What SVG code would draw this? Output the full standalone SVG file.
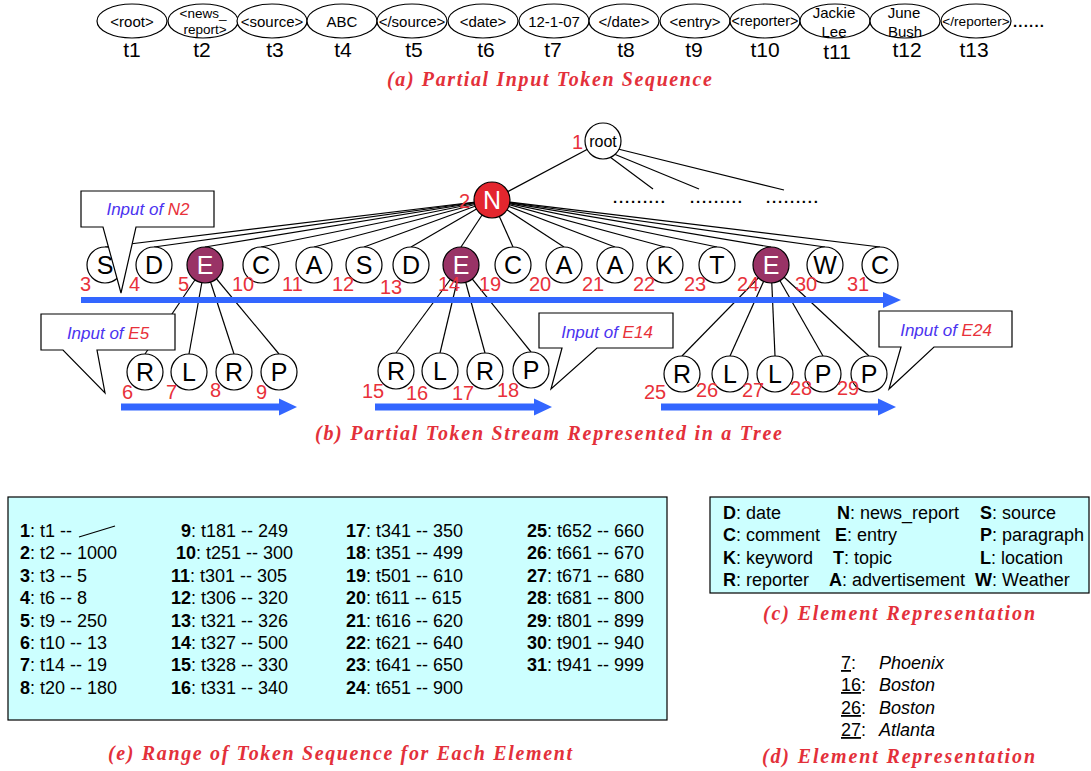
<svg xmlns="http://www.w3.org/2000/svg" width="1091" height="771" viewBox="0 0 1091 771">
<style>
text{font-family:"Liberation Sans",Arial,sans-serif;fill:#000}
.tok{fill:#fff;stroke:#000;stroke-width:1.2}
.tt{font-size:15px;text-anchor:middle}
.tl{font-size:21px;text-anchor:middle}
.cap{font-family:"Liberation Serif",serif;font-style:italic;font-weight:bold;font-size:20px;fill:#E3303A}
.nd{fill:#fff;stroke:#000;stroke-width:1.2}
.ndE{fill:#993366;stroke:#000;stroke-width:1.2}
.ndN{fill:#E3262E;stroke:#000;stroke-width:1.2}
.lt{font-size:25px;text-anchor:middle}
.lw{font-size:25px;text-anchor:middle;fill:#fff}
.num{font-size:20px;fill:#E8313A}
.edge line{stroke:#000;stroke-width:1.2}
.blue{fill:#3366FF}
.call{fill:#fff;stroke:#000;stroke-width:1.2}
.ci{font-size:17px;font-style:italic;text-anchor:middle;fill:#4B33F0}
.red{fill:#E8313A}
.tb{font-size:18px}
.box{fill:#CCFFFF;stroke:#000;stroke-width:1.2}
.dots{font-size:15px;font-weight:bold}
</style>

<!-- (a) token sequence -->
<g id="tokens">
<g id="tok1"><ellipse class="tok" cx="132" cy="21" rx="35" ry="17"/><text class="tt" x="132" y="27">&lt;root&gt;</text><text class="tl" x="132" y="57">t1</text></g>
<g id="tok2"><ellipse class="tok" cx="203" cy="21" rx="35" ry="17"/><text class="tt" x="203" y="18" style="font-size:13.5px">&lt;news_</text><text class="tt" x="205" y="34" style="font-size:13.5px">report&gt;</text><text class="tl" x="202" y="57">t2</text></g>
<g id="tok3"><ellipse class="tok" cx="272" cy="21" rx="35" ry="17"/><text class="tt" x="272" y="27">&lt;source&gt;</text><text class="tl" x="275" y="57">t3</text></g>
<g id="tok4"><ellipse class="tok" cx="342" cy="21" rx="35" ry="17"/><text class="tt" x="342" y="27">ABC</text><text class="tl" x="343" y="57">t4</text></g>
<g id="tok5"><ellipse class="tok" cx="412" cy="21" rx="35" ry="17"/><text class="tt" x="412" y="27">&lt;/source&gt;</text><text class="tl" x="414" y="57">t5</text></g>
<g id="tok6"><ellipse class="tok" cx="483" cy="21" rx="35" ry="17"/><text class="tt" x="483" y="27">&lt;date&gt;</text><text class="tl" x="486" y="57">t6</text></g>
<g id="tok7"><ellipse class="tok" cx="554" cy="21" rx="35" ry="17"/><text class="tt" x="554" y="27">12-1-07</text><text class="tl" x="553" y="57">t7</text></g>
<g id="tok8"><ellipse class="tok" cx="624" cy="21" rx="35" ry="17"/><text class="tt" x="624" y="27">&lt;/date&gt;</text><text class="tl" x="626" y="57">t8</text></g>
<g id="tok9"><ellipse class="tok" cx="695" cy="21" rx="35" ry="17"/><text class="tt" x="695" y="27">&lt;entry&gt;</text><text class="tl" x="694" y="57">t9</text></g>
<g id="tok10"><ellipse class="tok" cx="765" cy="21" rx="35" ry="17"/><text class="tt" x="765" y="26" style="font-size:14.3px">&lt;reporter&gt;</text><text class="tl" x="765" y="57">t10</text></g>
<g id="tok11"><ellipse class="tok" cx="835" cy="21" rx="35" ry="17"/><text class="tt" x="834" y="18">Jackie</text><text class="tt" x="834" y="37">Lee</text><text class="tl" x="837" y="59">t11</text></g>
<g id="tok12"><ellipse class="tok" cx="905" cy="21" rx="35" ry="17"/><text class="tt" x="904" y="18">June</text><text class="tt" x="905" y="37">Bush</text><text class="tl" x="907" y="57">t12</text></g>
<g id="tok13"><ellipse class="tok" cx="976" cy="21" rx="35" ry="17"/><text class="tt" x="976" y="26" style="font-size:13.6px">&lt;/reporter&gt;</text><text class="tl" x="974" y="57">t13</text></g>
<text class="dots" x="1013" y="27" textLength="31">......</text>
</g>
<text class="cap" x="387" y="86" textLength="325" lengthAdjust="spacing">(a)  Partial Input Token Sequence</text>

<!-- connectors -->
<g id="connectors" class="edge">
<line x1="603" y1="141" x2="492" y2="200"/>
<line x1="610" y1="157" x2="653" y2="189"/>
<line x1="614" y1="154" x2="699" y2="189"/>
<line x1="618" y1="149" x2="784" y2="190"/>
<line x1="492" y1="200" x2="105" y2="247"/>
<line x1="492" y1="200" x2="154" y2="247"/>
<line x1="492" y1="200" x2="205" y2="247"/>
<line x1="492" y1="200" x2="261" y2="247"/>
<line x1="492" y1="200" x2="314" y2="247"/>
<line x1="492" y1="200" x2="364" y2="247"/>
<line x1="492" y1="200" x2="411" y2="247"/>
<line x1="492" y1="200" x2="461" y2="247"/>
<line x1="492" y1="200" x2="513" y2="247"/>
<line x1="492" y1="200" x2="564" y2="247"/>
<line x1="492" y1="200" x2="615" y2="247"/>
<line x1="492" y1="200" x2="665" y2="247"/>
<line x1="492" y1="200" x2="717" y2="247"/>
<line x1="492" y1="200" x2="771" y2="247"/>
<line x1="492" y1="200" x2="825" y2="247"/>
<line x1="492" y1="200" x2="880" y2="247"/>
<line x1="205" y1="265" x2="145" y2="354"/>
<line x1="205" y1="265" x2="189" y2="354"/>
<line x1="205" y1="265" x2="234" y2="354"/>
<line x1="205" y1="265" x2="279" y2="354"/>
<line x1="461" y1="265" x2="396" y2="353"/>
<line x1="461" y1="265" x2="440" y2="353"/>
<line x1="461" y1="265" x2="485" y2="353"/>
<line x1="461" y1="265" x2="531" y2="352"/>
<line x1="771" y1="265" x2="682" y2="356"/>
<line x1="771" y1="265" x2="730" y2="356"/>
<line x1="771" y1="265" x2="775" y2="356"/>
<line x1="771" y1="265" x2="823" y2="356"/>
<line x1="771" y1="265" x2="869" y2="356"/>
</g>

<text class="dots" x="613" y="203" textLength="52">.........</text>
<text class="dots" x="690" y="203" textLength="52">.........</text>
<text class="dots" x="766" y="203" textLength="52">.........</text>

<!-- nodes -->
<g id="n1"><circle class="nd" cx="603" cy="141" r="18"/><text x="603" y="147" style="font-size:16px;text-anchor:middle">root</text><text class="num" x="572" y="149">1</text></g>
<g id="n2"><circle class="ndN" cx="492" cy="200" r="18"/><text class="lw" x="492" y="209">N</text><text class="num" x="459" y="208">2</text></g>
<g id="n3"><circle class="nd" cx="105" cy="265" r="18"/><text class="lt" x="105" y="274">S</text></g>
<g id="n4"><circle class="nd" cx="154" cy="265" r="18"/><text class="lt" x="154" y="274">D</text></g>
<g id="n5"><circle class="ndE" cx="205" cy="265" r="18"/><text class="lw" x="205" y="274">E</text></g>
<g id="n10"><circle class="nd" cx="261" cy="265" r="18"/><text class="lt" x="261" y="274">C</text></g>
<g id="n11"><circle class="nd" cx="314" cy="265" r="18"/><text class="lt" x="314" y="274">A</text></g>
<g id="n12"><circle class="nd" cx="364" cy="265" r="18"/><text class="lt" x="364" y="274">S</text></g>
<g id="n13"><circle class="nd" cx="411" cy="265" r="18"/><text class="lt" x="411" y="274">D</text></g>
<g id="n14"><circle class="ndE" cx="461" cy="265" r="18"/><text class="lw" x="461" y="274">E</text></g>
<g id="n19"><circle class="nd" cx="513" cy="265" r="18"/><text class="lt" x="513" y="274">C</text></g>
<g id="n20"><circle class="nd" cx="564" cy="265" r="18"/><text class="lt" x="564" y="274">A</text></g>
<g id="n21"><circle class="nd" cx="615" cy="265" r="18"/><text class="lt" x="615" y="274">A</text></g>
<g id="n22"><circle class="nd" cx="665" cy="265" r="18"/><text class="lt" x="665" y="274">K</text></g>
<g id="n23"><circle class="nd" cx="717" cy="265" r="18"/><text class="lt" x="717" y="274">T</text></g>
<g id="n24"><circle class="ndE" cx="771" cy="265" r="18"/><text class="lw" x="771" y="274">E</text></g>
<g id="n30"><circle class="nd" cx="825" cy="265" r="18"/><text class="lt" x="825" y="274">W</text></g>
<g id="n31"><circle class="nd" cx="880" cy="265" r="18"/><text class="lt" x="880" y="274">C</text></g>

<g id="n6"><circle class="nd" cx="145" cy="372" r="18"/><text class="lt" x="145" y="381">R</text></g>
<g id="n7"><circle class="nd" cx="189" cy="372" r="18"/><text class="lt" x="189" y="381">L</text></g>
<g id="n8"><circle class="nd" cx="234" cy="372" r="18"/><text class="lt" x="234" y="381">R</text></g>
<g id="n9"><circle class="nd" cx="279" cy="372" r="18"/><text class="lt" x="279" y="381">P</text></g>
<g id="n15"><circle class="nd" cx="396" cy="371" r="18"/><text class="lt" x="396" y="380">R</text></g>
<g id="n16"><circle class="nd" cx="440" cy="371" r="18"/><text class="lt" x="440" y="380">L</text></g>
<g id="n17"><circle class="nd" cx="485" cy="371" r="18"/><text class="lt" x="485" y="380">R</text></g>
<g id="n18"><circle class="nd" cx="531" cy="370" r="18"/><text class="lt" x="531" y="379">P</text></g>
<g id="n25"><circle class="nd" cx="682" cy="374" r="18"/><text class="lt" x="682" y="383">R</text></g>
<g id="n26"><circle class="nd" cx="730" cy="374" r="18"/><text class="lt" x="730" y="383">L</text></g>
<g id="n27"><circle class="nd" cx="775" cy="374" r="18"/><text class="lt" x="775" y="383">L</text></g>
<g id="n28"><circle class="nd" cx="823" cy="374" r="18"/><text class="lt" x="823" y="383">P</text></g>
<g id="n29"><circle class="nd" cx="869" cy="374" r="18"/><text class="lt" x="869" y="383">P</text></g>

<!-- blue stream arrows -->
<g id="streams">
<path class="blue" d="M81,297 H883 V292 L901,300 L883,308 V303 H81 Z"/>
<path class="blue" d="M121,403.5 H279 V398.5 L297,407 L279,415.5 V410.5 H121 Z"/>
<path class="blue" d="M375,403.5 H534 V398.5 L552,407 L534,415.5 V410.5 H375 Z"/>
<path class="blue" d="M661,403.5 H878 V398.5 L896,407 L878,415.5 V410.5 H661 Z"/>
</g>

<!-- order numbers -->
<g id="numbers">
<text class="num" x="80" y="291">3</text>
<text class="num" x="129" y="291">4</text>
<text class="num" x="178" y="291">5</text>
<text class="num" x="232" y="291">10</text>
<text class="num" x="282" y="291">11</text>
<text class="num" x="332" y="291">12</text>
<text class="num" x="380" y="294">13</text>
<text class="num" x="438" y="291">14</text>
<text class="num" x="479" y="291">19</text>
<text class="num" x="529" y="291">20</text>
<text class="num" x="582" y="291">21</text>
<text class="num" x="633" y="291">22</text>
<text class="num" x="684" y="291">23</text>
<text class="num" x="737" y="291">24</text>
<text class="num" x="795" y="291">30</text>
<text class="num" x="847" y="291">31</text>
<text class="num" x="122" y="399">6</text>
<text class="num" x="166" y="399">7</text>
<text class="num" x="210" y="397">8</text>
<text class="num" x="256" y="399">9</text>
<text class="num" x="362" y="398">15</text>
<text class="num" x="406" y="400">16</text>
<text class="num" x="452" y="400">17</text>
<text class="num" x="497" y="397">18</text>
<text class="num" x="644" y="399">25</text>
<text class="num" x="696" y="397">26</text>
<text class="num" x="742" y="397">27</text>
<text class="num" x="790" y="395">28</text>
<text class="num" x="837" y="395">29</text>
</g>

<!-- callouts -->
<g id="callN2"><polygon class="call" points="81,191 214,191 214,227 136,227 121,293 103,227 81,227"/><text class="ci" x="148" y="215">Input of <tspan class="red">N2</tspan></text></g>
<g id="callE5"><polygon class="call" points="41,314 175,314 175,350 97,350 105,393 63,350 41,350"/><text class="ci" x="108" y="339">Input of <tspan class="red">E5</tspan></text></g>
<g id="callE14"><polygon class="call" points="539,313 673,313 673,348 597,348 551,389 562,348 539,348"/><text class="ci" x="607" y="338">Input of <tspan class="red">E14</tspan></text></g>
<g id="callE24"><polygon class="call" points="879,311 1012,311 1012,347 934,347 889,389 901,347 879,347"/><text class="ci" x="946" y="336">Input of <tspan class="red">E24</tspan></text></g>

<text class="cap" x="315" y="440" textLength="467" lengthAdjust="spacing">(b)  Partial Token Stream Represented in a Tree</text>

<!-- (e) range table -->
<g id="rangeTable">
<rect class="box" x="8" y="497" width="659" height="223"/>
<text class="tb" x="20" y="537"><tspan font-weight="bold">1</tspan>: t1 --</text>
<line x1="79" y1="537" x2="115" y2="526" stroke="#000" stroke-width="1.2"/>
<text class="tb" x="20" y="559.4"><tspan font-weight="bold">2</tspan>: t2 -- 1000</text>
<text class="tb" x="20" y="581.8"><tspan font-weight="bold">3</tspan>: t3 -- 5</text>
<text class="tb" x="20" y="604.2"><tspan font-weight="bold">4</tspan>: t6 -- 8</text>
<text class="tb" x="20" y="626.6"><tspan font-weight="bold">5</tspan>: t9 -- 250</text>
<text class="tb" x="20" y="649"><tspan font-weight="bold">6</tspan>: t10 -- 13</text>
<text class="tb" x="20" y="671.4"><tspan font-weight="bold">7</tspan>: t14 -- 19</text>
<text class="tb" x="20" y="693.8"><tspan font-weight="bold">8</tspan>: t20 -- 180</text>

<text class="tb" x="181" y="537"><tspan font-weight="bold">9</tspan>: t181 -- 249</text>
<text class="tb" x="176" y="559.4"><tspan font-weight="bold">10</tspan>: t251 -- 300</text>
<text class="tb" x="171" y="581.8"><tspan font-weight="bold">11</tspan>: t301 -- 305</text>
<text class="tb" x="171" y="604.2"><tspan font-weight="bold">12</tspan>: t306 -- 320</text>
<text class="tb" x="171" y="626.6"><tspan font-weight="bold">13</tspan>: t321 -- 326</text>
<text class="tb" x="171" y="649"><tspan font-weight="bold">14</tspan>: t327 -- 500</text>
<text class="tb" x="171" y="671.4"><tspan font-weight="bold">15</tspan>: t328 -- 330</text>
<text class="tb" x="171" y="693.8"><tspan font-weight="bold">16</tspan>: t331 -- 340</text>

<text class="tb" x="346" y="537"><tspan font-weight="bold">17</tspan>: t341 -- 350</text>
<text class="tb" x="346" y="559.4"><tspan font-weight="bold">18</tspan>: t351 -- 499</text>
<text class="tb" x="346" y="581.8"><tspan font-weight="bold">19</tspan>: t501 -- 610</text>
<text class="tb" x="346" y="604.2"><tspan font-weight="bold">20</tspan>: t611 -- 615</text>
<text class="tb" x="346" y="626.6"><tspan font-weight="bold">21</tspan>: t616 -- 620</text>
<text class="tb" x="346" y="649"><tspan font-weight="bold">22</tspan>: t621 -- 640</text>
<text class="tb" x="346" y="671.4"><tspan font-weight="bold">23</tspan>: t641 -- 650</text>
<text class="tb" x="346" y="693.8"><tspan font-weight="bold">24</tspan>: t651 -- 900</text>

<text class="tb" x="527" y="537"><tspan font-weight="bold">25</tspan>: t652 -- 660</text>
<text class="tb" x="527" y="559.4"><tspan font-weight="bold">26</tspan>: t661 -- 670</text>
<text class="tb" x="527" y="581.8"><tspan font-weight="bold">27</tspan>: t671 -- 680</text>
<text class="tb" x="527" y="604.2"><tspan font-weight="bold">28</tspan>: t681 -- 800</text>
<text class="tb" x="527" y="626.6"><tspan font-weight="bold">29</tspan>: t801 -- 899</text>
<text class="tb" x="527" y="649"><tspan font-weight="bold">30</tspan>: t901 -- 940</text>
<text class="tb" x="527" y="671.4"><tspan font-weight="bold">31</tspan>: t941 -- 999</text>
</g>
<text class="cap" x="108" y="760" textLength="464" lengthAdjust="spacing">(e) Range of Token Sequence for Each Element</text>

<!-- (c) legend -->
<g id="legend">
<rect class="box" x="710" y="497" width="379" height="96"/>
<text class="tb" x="723" y="519"><tspan font-weight="bold">D</tspan>: date</text>
<text class="tb" x="837" y="519"><tspan font-weight="bold">N</tspan>: news_report</text>
<text class="tb" x="980" y="519"><tspan font-weight="bold">S</tspan>: source</text>
<text class="tb" x="723" y="541"><tspan font-weight="bold">C</tspan>: comment</text>
<text class="tb" x="835" y="541"><tspan font-weight="bold">E</tspan>: entry</text>
<text class="tb" x="980" y="541"><tspan font-weight="bold">P</tspan>: paragraph</text>
<text class="tb" x="723" y="564"><tspan font-weight="bold">K</tspan>: keyword</text>
<text class="tb" x="833" y="564"><tspan font-weight="bold">T</tspan>: topic</text>
<text class="tb" x="980" y="564"><tspan font-weight="bold">L</tspan>: location</text>
<text class="tb" x="723" y="586"><tspan font-weight="bold">R</tspan>: reporter</text>
<text class="tb" x="829" y="586"><tspan font-weight="bold">A</tspan>: advertisement</text>
<text class="tb" x="975" y="586"><tspan font-weight="bold">W</tspan>: Weather</text>
</g>
<text class="cap" x="763" y="620" textLength="272" lengthAdjust="spacing">(c)  Element Representation</text>

<!-- (d) values -->
<g id="values">
<text class="tb" x="841" y="669"><tspan text-decoration="underline">7</tspan>:</text><text class="tb" x="879" y="669" font-style="italic">Phoenix</text>
<text class="tb" x="841" y="691"><tspan text-decoration="underline">16</tspan>:</text><text class="tb" x="879" y="691" font-style="italic">Boston</text>
<text class="tb" x="841" y="714"><tspan text-decoration="underline">26</tspan>:</text><text class="tb" x="879" y="714" font-style="italic">Boston</text>
<text class="tb" x="841" y="736"><tspan text-decoration="underline">27</tspan>:</text><text class="tb" x="879" y="736" font-style="italic">Atlanta</text>
</g>
<text class="cap" x="762" y="763" textLength="273" lengthAdjust="spacing">(d)  Element Representation</text>
</svg>
